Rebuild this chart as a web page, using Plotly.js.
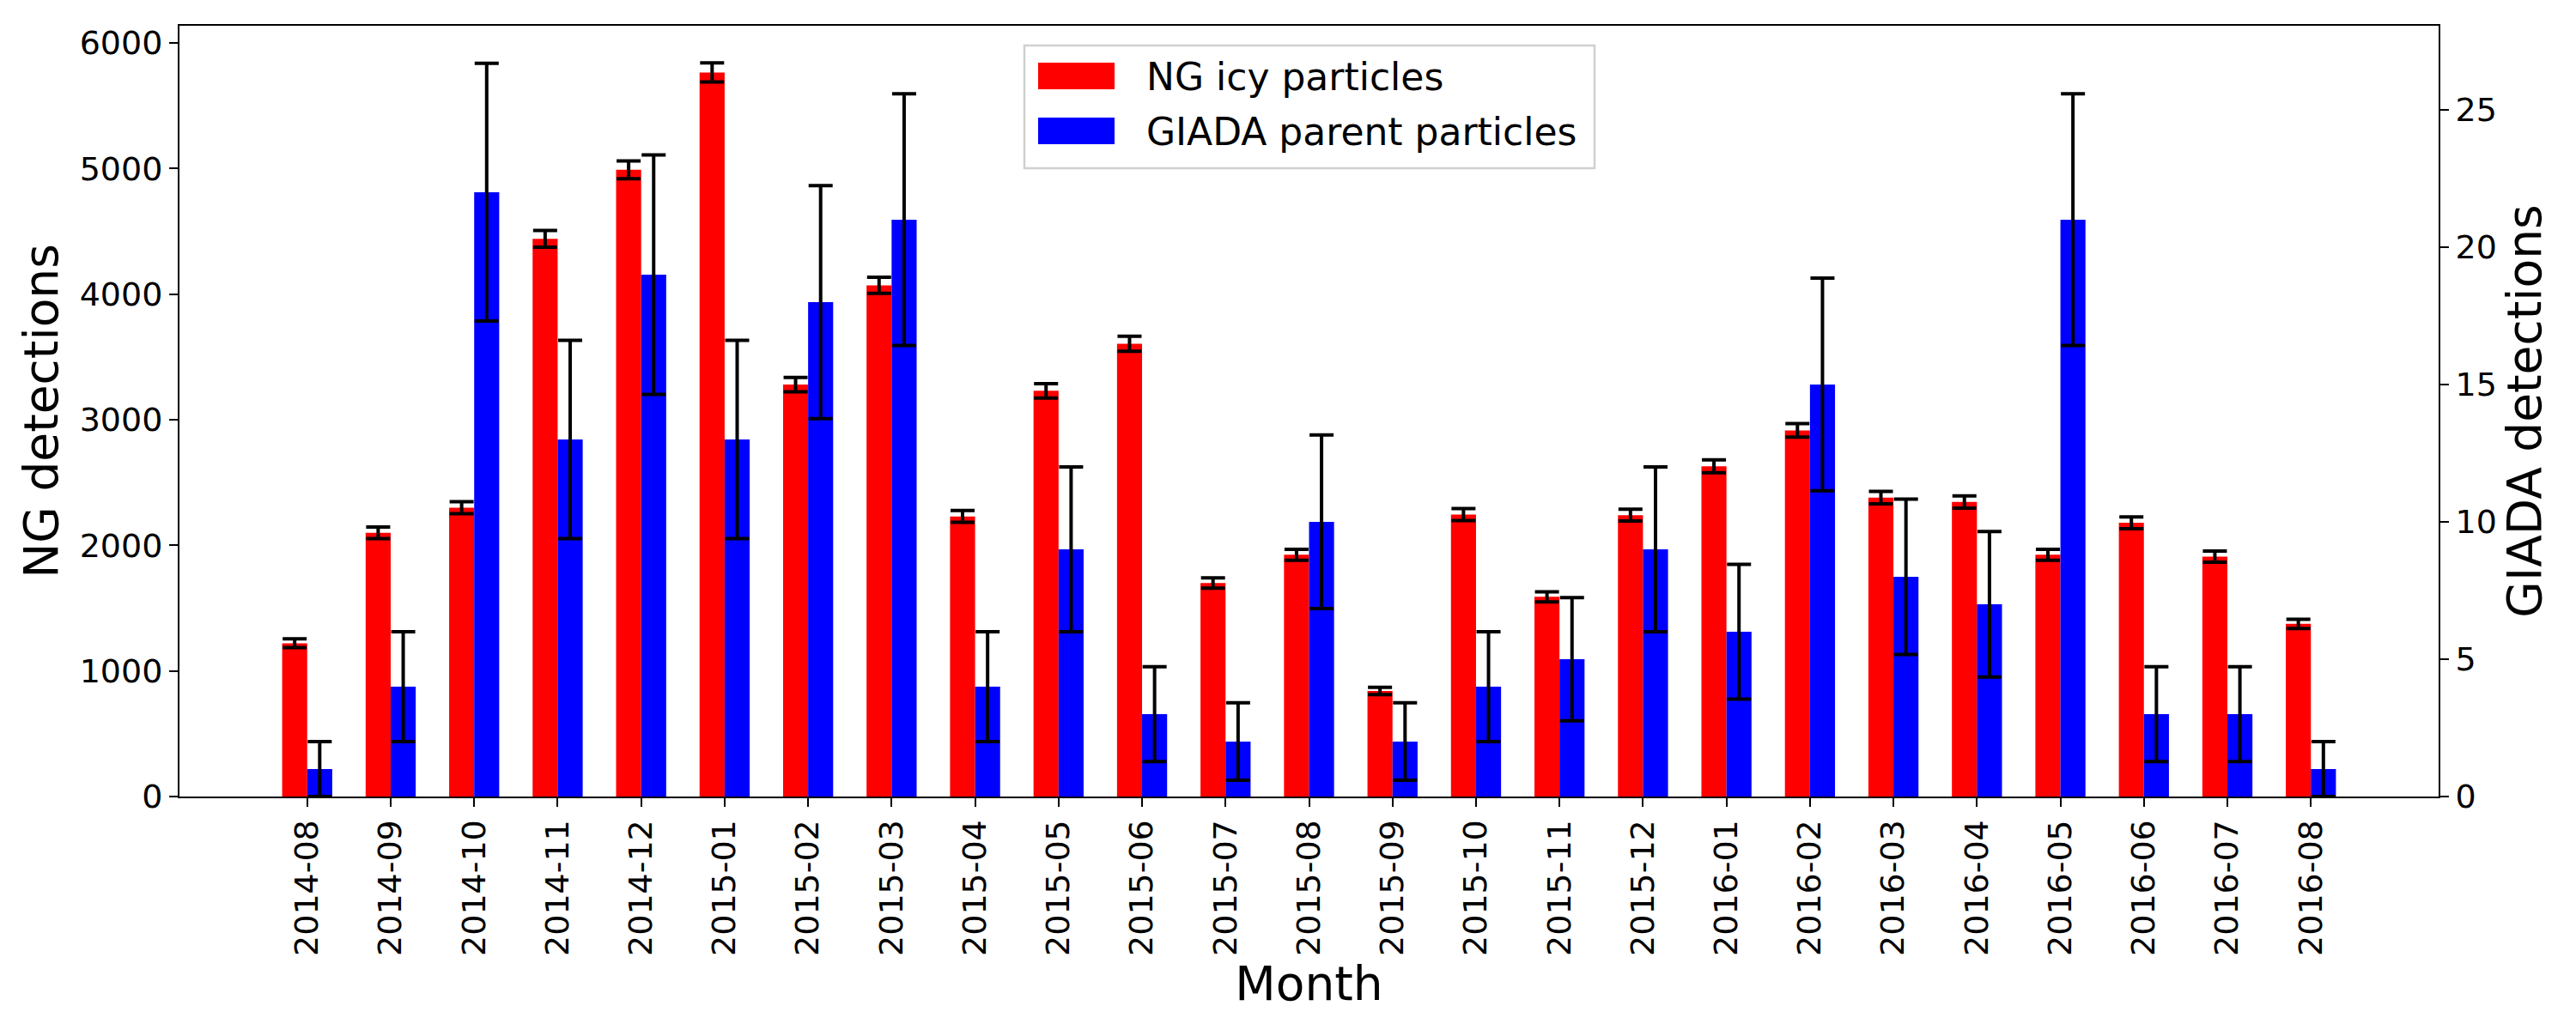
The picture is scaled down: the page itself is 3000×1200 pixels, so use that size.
<!DOCTYPE html>
<html><head><meta charset="utf-8">
<script src="https://cdn.plot.ly/plotly-3.0.1.min.js"></script>
<style>body{margin:0;background:#fff}#chart{width:3000px;height:1200px}</style>
</head><body><div id="chart"></div>
<script>
const months = ["2014-08","2014-09","2014-10","2014-11","2014-12","2015-01","2015-02","2015-03","2015-04","2015-05","2015-06","2015-07","2015-08","2015-09","2015-10","2015-11","2015-12","2016-01","2016-02","2016-03","2016-04","2016-05","2016-06","2016-07","2016-08"];
const ngIcy = [1220,2100,2300,4440,4990,5765,3280,4070,2230,3230,3605,1700,1925,840,2245,1590,2240,2630,2915,2380,2345,1925,2180,1910,1375];
const ngErr = [35,46,48,67,71,76,57,64,47,57,60,41,44,29,47,40,47,51,54,49,48,44,47,44,37];
const giada = [1,4,22,13,19,13,18,21,4,9,3,2,10,2,4,5,9,6,15,8,7,21,3,3,1];
const giadaErr = [1,2,4.69,3.61,4.36,3.61,4.24,4.58,2,3,1.73,1.41,3.16,1.41,2,2.24,3,2.45,3.87,2.83,2.65,4.58,1.73,1.73,1];
const leftTicks = [0,1000,2000,3000,4000,5000,6000];
const rightTicks = [0,5,10,15,20,25];
const seriesNames = ["NG icy particles","GIADA parent particles"];
const colors = ["#ff0000","#0000ff"];

const W=3000,H=1200, L=209, R=160, T=30, B=272;
const pw=W-L-R, ph=H-T-B;
const px=x=>(x-L)/pw, py=y=>(H-B-y)/ph;
const FONT="DejaVu Sans";

const err = (arr)=>({type:'data',array:arr,visible:true,color:'#000',thickness:4,width:14});
const traces = [
 {type:'bar',x:months,y:ngIcy,name:seriesNames[0],marker:{color:colors[0],line:{width:0}},width:0.3,offset:-0.3,yaxis:'y',error_y:err(ngErr),showlegend:false},
 {type:'bar',x:months,y:giada,name:seriesNames[1],marker:{color:colors[1],line:{width:0}},width:0.3,offset:0,yaxis:'y2',error_y:err(giadaErr),showlegend:false}
];

const shapes=[
 {type:'rect',xref:'paper',yref:'paper',x0:px(1193),x1:px(1857),y0:py(196),y1:py(53),line:{color:'#d0d0d0',width:2.5},fillcolor:'rgba(255,255,255,0.8)',layer:'above'},
 {type:'rect',xref:'paper',yref:'paper',x0:px(1209),x1:px(1298),y0:py(104),y1:py(73),line:{width:0},fillcolor:colors[0],layer:'above'},
 {type:'rect',xref:'paper',yref:'paper',x0:px(1209),x1:px(1298),y0:py(168),y1:py(137),line:{width:0},fillcolor:colors[1],layer:'above'}
];
const annotations=[
 {xref:'paper',yref:'paper',x:px(1333),y:py(89),text:seriesNames[0],showarrow:false,xanchor:'left',yanchor:'middle',font:{family:FONT,size:44,color:'#000'}},
 {xref:'paper',yref:'paper',x:px(1333),y:py(153),text:seriesNames[1],showarrow:false,xanchor:'left',yanchor:'middle',font:{family:FONT,size:44,color:'#000'}}
];

const axCommon={showgrid:false,zeroline:false,showline:true,linecolor:'#000',linewidth:2,ticks:'outside',ticklen:10,tickwidth:2,tickcolor:'#000',tickfont:{family:FONT,size:38,color:'#000'}};
const layout={
 width:W,height:H,paper_bgcolor:'#fff',plot_bgcolor:'#fff',
 margin:{l:L,r:R,t:T,b:B,pad:0},
 barmode:'overlay',showlegend:false,
 font:{family:FONT,color:'#000'},
 xaxis:Object.assign({},axCommon,{type:'category',categoryorder:'array',categoryarray:months,range:[-1.53,25.53],tickangle:-90,mirror:true,
   title:{text:'Month',font:{family:FONT,size:55,color:'#000'},standoff:8}}),
 yaxis:Object.assign({},axCommon,{range:[0,6137],tickvals:leftTicks,ticktext:leftTicks.map(String),
   title:{text:'NG detections',font:{family:FONT,size:55,color:'#000'},standoff:7}}),
 yaxis2:Object.assign({},axCommon,{overlaying:'y',side:'right',range:[0,28.06],tickvals:rightTicks,ticktext:rightTicks.map(String),
   title:{text:'GIADA detections',font:{family:FONT,size:55,color:'#000'},standoff:12}}),
 shapes:shapes,annotations:annotations
};
Plotly.newPlot('chart',traces,layout,{staticPlot:true,displayModeBar:false});
</script></body></html>
